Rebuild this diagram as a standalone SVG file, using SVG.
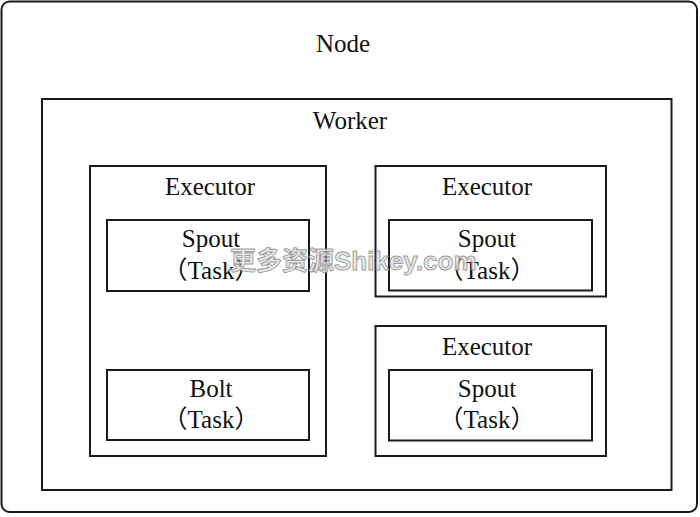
<svg xmlns="http://www.w3.org/2000/svg" width="700" height="517" viewBox="0 0 700 517">
<style>
.box{fill:none;stroke:#1a1a1a;stroke-width:2}
.t{font-family:"Liberation Serif","Noto Sans CJK SC",serif;font-size:25px;fill:#111;text-anchor:middle}
.wm{font-family:"Liberation Sans","Noto Sans CJK SC",sans-serif;font-size:26px;font-weight:bold;fill:#e4e4e4;stroke:#8a8a8a;stroke-width:0.9;opacity:0.85}
</style>
<rect width="700" height="517" fill="#fff"/>
<g id="node">
<rect class="box" x="1.5" y="1.5" width="695.5" height="510.5" rx="8"/>
<text class="t" x="343" y="52">Node</text>
</g>
<g id="worker">
<rect class="box" x="42" y="99" width="629.5" height="391"/>
<text class="t" x="350" y="129">Worker</text>
</g>
<g id="executor1">
<rect class="box" x="90" y="166" width="236" height="290"/>
<text class="t" x="210" y="195">Executor</text>
</g>
<g id="spout1">
<rect class="box" x="107" y="220" width="202" height="71"/>
<text class="t" x="211" y="247">Spout</text>
<text class="t" x="211" y="279">（Task）</text>
</g>
<g id="bolt1">
<rect class="box" x="107" y="370" width="202" height="70"/>
<text class="t" x="211" y="397">Bolt</text>
<text class="t" x="211" y="428">（Task）</text>
</g>
<g id="executor2">
<rect class="box" x="375.5" y="166" width="230.5" height="130.5"/>
<text class="t" x="487" y="195">Executor</text>
</g>
<g id="spout2">
<rect class="box" x="389" y="220" width="203" height="70.5"/>
<text class="t" x="487" y="247">Spout</text>
<text class="t" x="487" y="279">（Task）</text>
</g>
<g id="executor3">
<rect class="box" x="375.5" y="326" width="230.5" height="130"/>
<text class="t" x="487" y="355">Executor</text>
</g>
<g id="spout3">
<rect class="box" x="389" y="370" width="203" height="70.5"/>
<text class="t" x="487" y="397">Spout</text>
<text class="t" x="487" y="428">（Task）</text>
</g>
<g id="connectors"></g>
<text class="wm" x="230" y="270">更多资源Shikey.com</text>
</svg>
